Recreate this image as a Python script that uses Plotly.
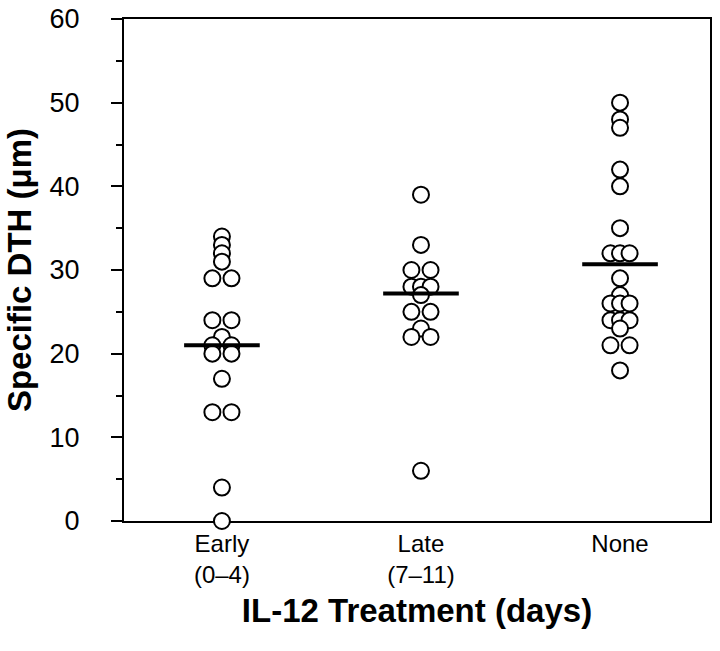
import plotly.graph_objects as go

categories = ["Early<br>(0–4)", "Late<br>(7–11)", "None"]
early = [34, 33, 32, 31, 29, 29, 24, 24, 22, 21, 21, 20, 20, 17, 13, 13, 4, 0]
late = [39, 33, 30, 30, 28, 28, 28, 27, 25, 25, 23, 22, 22, 6]
none = [50, 48, 47, 42, 40, 35, 32, 32, 32, 29, 27, 26, 26, 26, 24, 24, 24, 23, 21, 21, 18]
means = [21.0, 27.2, 30.7]
y_ticks = [0, 10, 20, 30, 40, 50, 60]

groups = [early, late, none]
SPREAD = 0.048
HALF_BAR = 0.19
FONT = "Liberation Sans, Arial, Helvetica, sans-serif"


def swarm(values, center):
    counts = {}
    for v in values:
        counts[v] = counts.get(v, 0) + 1
    seen = {}
    xs = []
    for v in values:
        n = counts[v]
        k = seen.get(v, 0)
        seen[v] = k + 1
        xs.append(center + (k - (n - 1) / 2) * SPREAD * (2 if n == 2 else 1))
    return xs


fig = go.Figure()
for i, vals in enumerate(groups):
    c = i + 1
    fig.add_trace(go.Scatter(
        x=swarm(vals, c), y=vals, mode="markers", cliponaxis=False,
        marker=dict(symbol="circle", size=16, color="white",
                    line=dict(color="black", width=2)),
        showlegend=False, hoverinfo="y"))
for i, m in enumerate(means):
    c = i + 1
    fig.add_trace(go.Scatter(
        x=[c - HALF_BAR, c + HALF_BAR], y=[m, m], mode="lines",
        line=dict(color="black", width=4), showlegend=False, cliponaxis=False))

fig.update_layout(
    width=720, height=651,
    margin=dict(l=124, r=10, t=19, b=130, autoexpand=False),
    paper_bgcolor="white", plot_bgcolor="white",
    font=dict(family=FONT, color="black", size=24),
)
fig.update_xaxes(
    range=[0.508, 3.452], tickmode="array", tickvals=[1, 2, 3], ticktext=categories,
    ticks="", showgrid=False, zeroline=False, showline=True, linecolor="black",
    linewidth=2, mirror=True, layer="below traces", automargin=False,
    tickfont=dict(size=24, family=FONT), ticklabeloverflow="allow",
    title=dict(text="<b>IL-12 Treatment (days)</b>", font=dict(size=33, family=FONT),
               standoff=12),
)
fig.update_yaxes(
    range=[0, 60], tickmode="array", tickvals=y_ticks,
    ticks="outside", ticklen=11, tickwidth=2, tickcolor="black",
    minor=dict(dtick=5, ticks="outside", ticklen=6, tickwidth=2, tickcolor="black"),
    showgrid=False, zeroline=False, showline=True, linecolor="black",
    linewidth=2, mirror=True, layer="below traces", automargin=False,
    tickfont=dict(size=27, family=FONT), ticklabelstandoff=26,
    ticklabeloverflow="allow",
    title=dict(text="<b>Specific DTH (μm)</b>", font=dict(size=33, family=FONT),
               standoff=8),
)

fig.write_html("out.html", config={"displayModeBar": False},
               post_script="document.body.style.margin='0';")
